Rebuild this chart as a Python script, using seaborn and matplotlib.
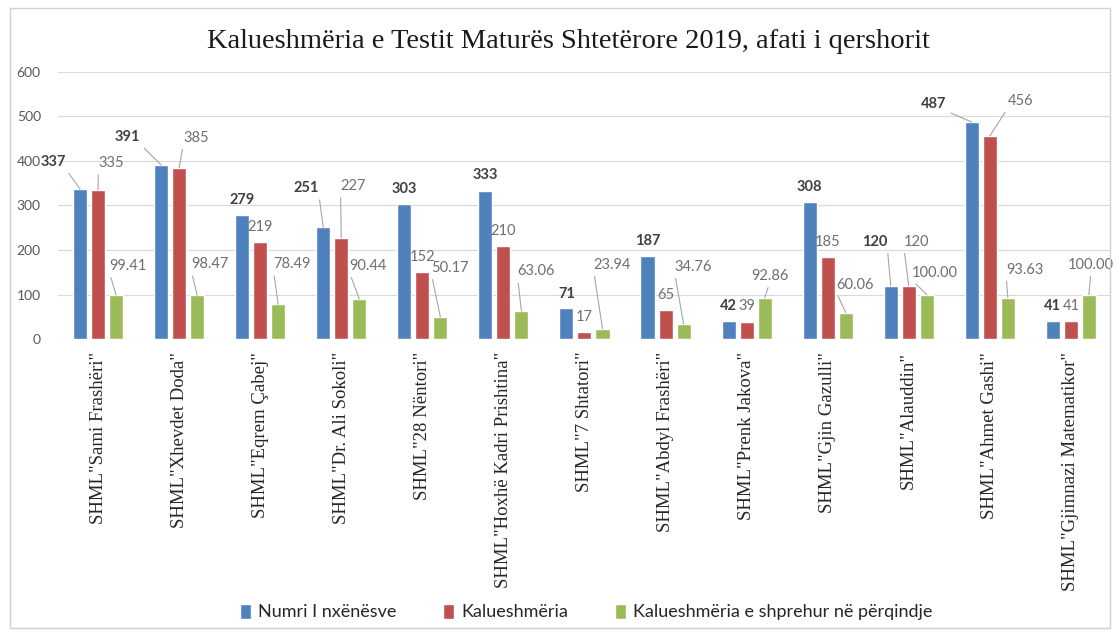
import pandas as pd
import numpy as np
import matplotlib.pyplot as plt
import seaborn as sns
from matplotlib.patches import Rectangle

# Data
schools = ['SHML"Sami Frashëri"', 'SHML"Xhevdet Doda"', 'SHML"Eqrem Çabej"',
           'SHML"Dr. Ali Sokoli"', 'SHML"28 Nëntori"', 'SHML"Hoxhë Kadri Prishtina"',
           'SHML"7 Shtatori"', 'SHML"Abdyl Frashëri"', 'SHML"Prenk Jakova"',
           'SHML"Gjin Gazulli"', 'SHML"Alauddin"', 'SHML"Ahmet Gashi"',
           'SHML"Gjimnazi Matematikor"']
numri = [337, 391, 279, 251, 303, 333, 71, 187, 42, 308, 120, 487, 41]
kalueshmeria = [335, 385, 219, 227, 152, 210, 17, 65, 39, 185, 120, 456, 41]
perqindje = [99.41, 98.47, 78.49, 90.44, 50.17, 63.06, 23.94, 34.76, 92.86,
             60.06, 100.00, 93.63, 100.00]
series_names = ['Numri I nxënësve', 'Kalueshmëria',
                'Kalueshmëria e shprehur në përqindje']

# label offsets in pixels (dx, dy) from bar top, per series (dy negative = up)
off_blue = [(-27, -27), (-34, -28), (0, -15), (-17, -39), (0, -15), (0, -16), (0, -14),
            (0, -15), (0, -15), (0, -15), (-16, -44), (-38, -18), (0, -15)]
off_red = [(13, -27), (17, -30), (0, -15), (12, -52), (0, -15), (0, -15), (0, -15),
           (0, -15), (0, -16), (0, -15), (8, -44), (31, -35), (0, -15)]
off_green = [(12, -29), (13, -31), (14, -40), (9, -33), (10, -49), (15, -40), (10, -64),
             (10, -57), (5, -22), (9, -28), (8, -22), (17, -28), (2, -30)]

df = pd.DataFrame({'school': schools, series_names[0]: numri,
                   series_names[1]: kalueshmeria, series_names[2]: perqindje})
long = df.melt(id_vars='school', var_name='series', value_name='value')

sns.set_theme(style='whitegrid')
plt.rcParams['font.family'] = ['Lato', 'DejaVu Sans']

colors = ['#4F81BD', '#C0504D', '#9BBB59']

fig = plt.figure(figsize=(11.17, 6.36), dpi=100)
ax = fig.add_axes([0.0515, 0.4665, 0.9435, 0.4208])
sns.barplot(data=long, x='school', y='value', hue='series', palette=colors,
            width=0.667, gap=0.22, saturation=1, errorbar=None, ax=ax, legend=True)

ax.set_ylim(0, 600)
ax.set_xlim(-0.5, len(schools) - 0.5)
ax.set_yticks(range(0, 601, 100))
ax.set_xlabel('')
ax.set_ylabel('')
ax.grid(axis='y', color='#d9d9d9', lw=0.8)
ax.grid(axis='x', visible=False)
for s in ax.spines.values():
    s.set_visible(False)
ax.tick_params(axis='y', length=0, labelsize=10, labelcolor='#595959', pad=12)
ax.tick_params(axis='x', length=0, pad=9)
ax.set_xticks(range(len(schools)))
ax.set_xticklabels(schools, rotation=90, family='Liberation Serif', fontsize=13.5,
                   color='#262626')

offsets = [off_blue, off_red, off_green]
for k, cont in enumerate(ax.containers):
    for i, bar in enumerate(cont):
        h = bar.get_height()
        x = bar.get_x() + bar.get_width() / 2
        dx, dy = offsets[k][i]
        txt = f'{h:.2f}' if k == 2 else f'{int(round(h))}'
        bold = k == 0
        leader = abs(dy) > 18 or abs(dx) > 5
        kw = {}
        if leader:
            rel = (1, 0) if dx < -5 else ((0, 0) if dx > 5 else (0.5, 0))
            kw['arrowprops'] = dict(arrowstyle='-', color='#a6a6a6', lw=0.8,
                                    shrinkA=1, shrinkB=0, relpos=rel)
        ax.annotate(txt, xy=(x, h), xytext=(dx, -dy), textcoords='offset pixels',
                    ha='center', va='center', fontsize=10.5,
                    fontweight='bold' if bold else 'normal',
                    color='#404040' if bold else '#6f6f6f', **kw)

handles, labels = ax.get_legend_handles_labels()
ax.get_legend().remove()
fig.legend(handles, labels, loc='center', bbox_to_anchor=(0.525, 1 - 612 / 636),
           ncol=3, frameon=False, prop={'family': 'Lato', 'size': 13},
           handlelength=0.6, handleheight=0.9, handletextpad=0.4, columnspacing=2.6)

fig.text(0.509, 1 - 41 / 636, 'Kalueshmëria e Testit Maturës Shtetërore 2019, afati i qershorit',
         ha='center', va='center', family='Liberation Serif', fontsize=20.5, color='#1a1a1a')

fig.patches.append(Rectangle((10 / 1117, 8 / 636), 1100 / 1117, 620 / 636,
                             transform=fig.transFigure, fill=False,
                             edgecolor='#d0d0d0', lw=1))

fig.savefig('out.png', dpi=100)
